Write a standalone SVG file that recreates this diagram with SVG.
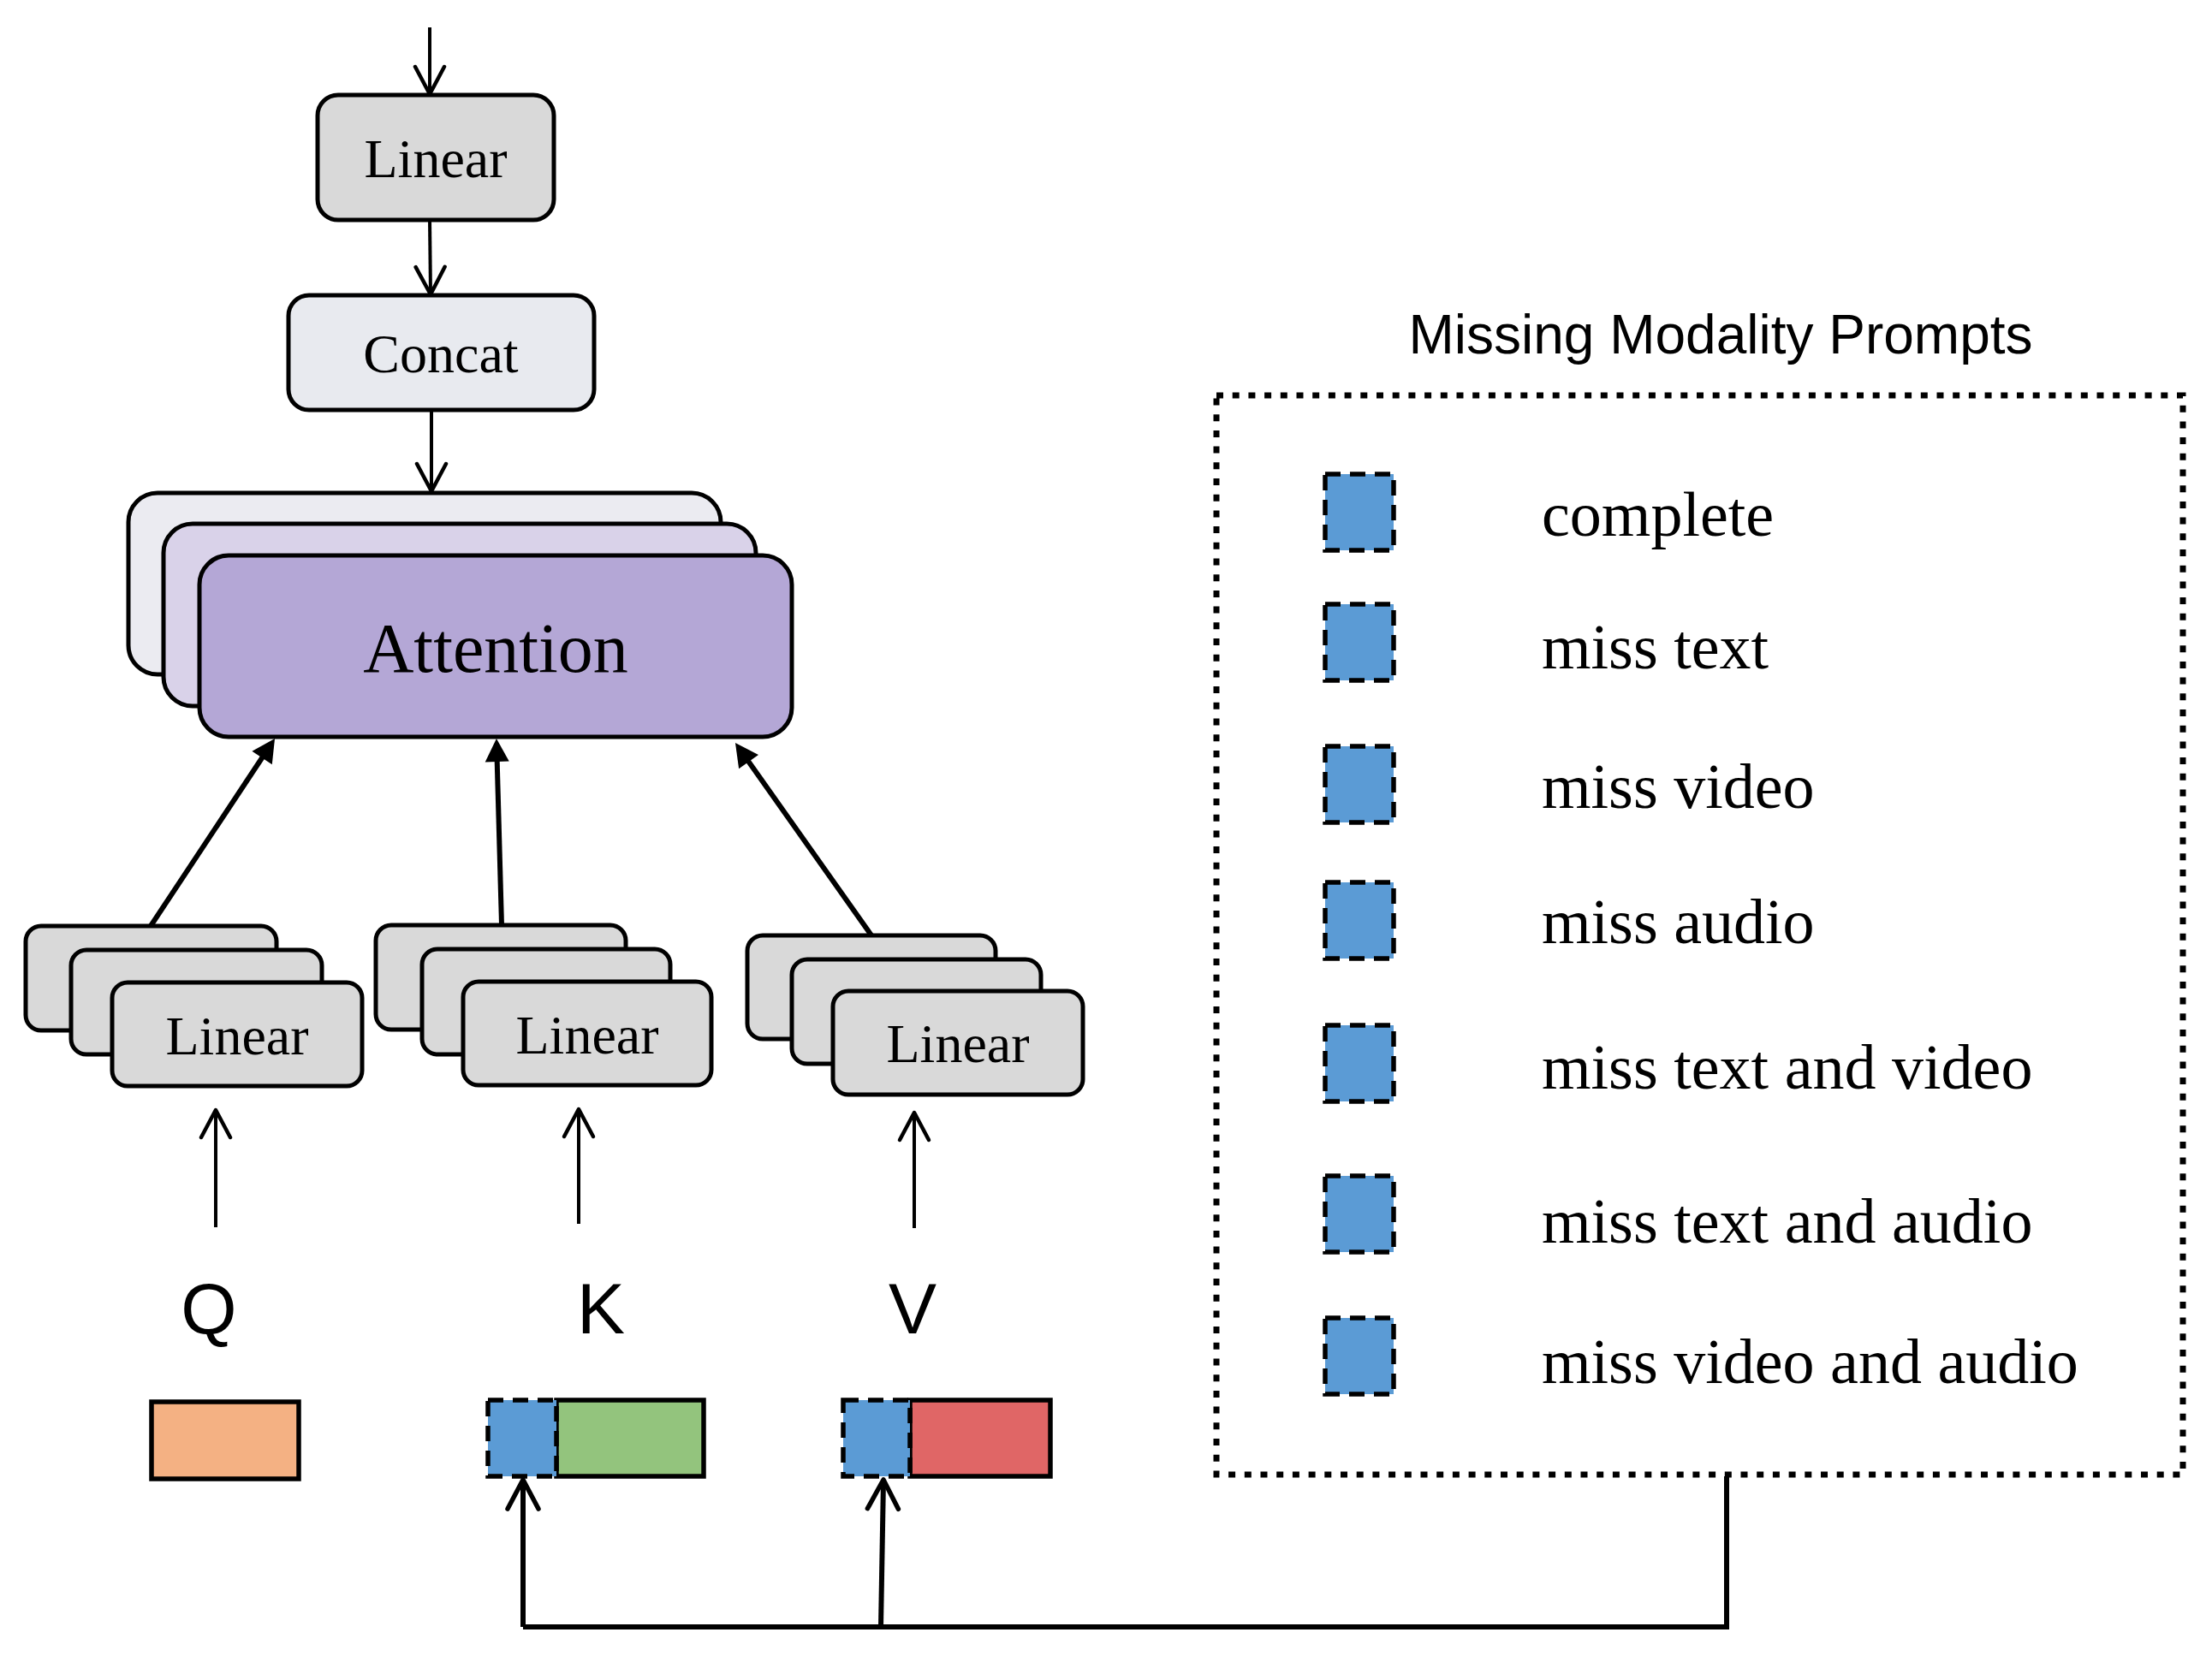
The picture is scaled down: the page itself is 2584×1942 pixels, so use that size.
<svg xmlns="http://www.w3.org/2000/svg" width="2584" height="1942" viewBox="0 0 2584 1942">
<defs>
<style>
.box{stroke:#000;stroke-width:5}
.lin{fill:#D9D9D9}
.serif{font-family:"Liberation Serif","Times New Roman",serif;fill:#000}
.sans{font-family:"Liberation Sans",Arial,sans-serif;fill:#000}
.thin{stroke:#000;stroke-width:4;fill:none;marker-end:url(#open)}
.thick{stroke:#000;stroke-width:6;fill:none;marker-end:url(#solid)}
.bus{stroke:#000;stroke-width:6;fill:none}
.prompt{fill:#5B9BD5;stroke:#000;stroke-width:5.5;stroke-dasharray:18 11}
.bar{stroke:#000;stroke-width:5.5}
</style>
<marker id="open" markerUnits="userSpaceOnUse" viewBox="-38 -22 42 44" refX="0" refY="0" markerWidth="42" markerHeight="44" orient="auto" overflow="visible">
<path d="M-32,-17 L0,0 L-32,17" fill="none" stroke="#000" stroke-width="4.5" stroke-linecap="round" stroke-linejoin="round"/>
</marker>
<marker id="openBig" markerUnits="userSpaceOnUse" viewBox="-40 -24 44 48" refX="0" refY="0" markerWidth="44" markerHeight="48" orient="auto" overflow="visible">
<path d="M-34,-18 L0,0 L-34,18" fill="none" stroke="#000" stroke-width="5.5" stroke-linecap="round" stroke-linejoin="round"/>
</marker>
<marker id="solid" markerUnits="userSpaceOnUse" viewBox="-16 -15 30 30" refX="0" refY="0" markerWidth="30" markerHeight="30" orient="auto" overflow="visible">
<polygon points="12,0 -15,-14 -15,14" fill="#000"/>
</marker>
</defs>
<rect width="2584" height="1942" fill="#fff"/>

<g id="linear-top">
<rect class="box lin" x="371" y="111" width="276" height="146" rx="24"/>
<text class="serif" x="509" y="207" font-size="64" text-anchor="middle">Linear</text>
</g>

<g id="concat">
<rect class="box" fill="#E8EAEF" x="337" y="345" width="357" height="134" rx="24"/>
<text class="serif" x="515" y="435" font-size="64" text-anchor="middle">Concat</text>
</g>

<g id="attention">
<rect class="box" fill="#EBEBF1" x="150" y="576" width="692" height="212" rx="34"/>
<rect class="box" fill="#D9D2E9" x="191" y="612" width="692" height="213" rx="34"/>
<rect class="box" fill="#B4A7D6" x="233" y="649" width="692" height="212" rx="34"/>
<text class="serif" x="579" y="785" font-size="82" text-anchor="middle">Attention</text>
</g>

<g id="linear-q">
<rect class="box lin" x="30" y="1082" width="293" height="122" rx="18"/>
<rect class="box lin" x="83" y="1110" width="293" height="122" rx="18"/>
<rect class="box lin" x="131" y="1148" width="292" height="121" rx="18"/>
<text class="serif" x="277" y="1232" font-size="64" text-anchor="middle">Linear</text>
</g>

<g id="linear-k">
<rect class="box lin" x="439" y="1081" width="292" height="122" rx="18"/>
<rect class="box lin" x="493" y="1109" width="290" height="123" rx="18"/>
<rect class="box lin" x="541" y="1147" width="290" height="121" rx="18"/>
<text class="serif" x="686" y="1231" font-size="64" text-anchor="middle">Linear</text>
</g>

<g id="linear-v">
<rect class="box lin" x="873" y="1093" width="290" height="121" rx="18"/>
<rect class="box lin" x="925" y="1121" width="291" height="122" rx="18"/>
<rect class="box lin" x="973" y="1158" width="292" height="121" rx="18"/>
<text class="serif" x="1119" y="1241" font-size="64" text-anchor="middle">Linear</text>
</g>

<g id="label-q"><text class="sans" x="244" y="1558" font-size="84" text-anchor="middle">Q</text></g>
<g id="label-k"><text class="sans" x="702" y="1558" font-size="84" text-anchor="middle">K</text></g>
<g id="label-v"><text class="sans" x="1066" y="1558" font-size="84" text-anchor="middle">V</text></g>

<g id="bar-q">
<rect class="bar" fill="#F4B183" x="177" y="1638" width="172" height="90"/>
</g>
<g id="bar-k">
<rect class="bar" fill="#93C47D" x="650" y="1636" width="172" height="89"/>
<rect class="prompt" x="570" y="1636" width="80" height="89" stroke-dasharray="16 12"/>
</g>
<g id="bar-v">
<rect class="bar" fill="#E06666" x="1063" y="1636" width="164" height="89"/>
<rect class="prompt" x="985" y="1636" width="78" height="89" stroke-dasharray="16 12"/>
</g>

<g id="prompts">
<text class="sans" x="2010" y="413" font-size="64" text-anchor="middle">Missing Modality Prompts</text>
<rect x="1421" y="462" width="1129" height="1261" fill="none" stroke="#000" stroke-width="7" stroke-dasharray="8 10.7"/>
<g id="prompt-complete"><rect class="prompt" x="1548" y="554" width="80" height="89"/><text class="serif" x="1801" y="626" font-size="74">complete</text></g>
<g id="prompt-miss-text"><rect class="prompt" x="1548" y="706" width="80" height="89"/><text class="serif" x="1801" y="781" font-size="74">miss text</text></g>
<g id="prompt-miss-video"><rect class="prompt" x="1548" y="872" width="80" height="89"/><text class="serif" x="1801" y="944" font-size="74">miss video</text></g>
<g id="prompt-miss-audio"><rect class="prompt" x="1548" y="1031" width="80" height="89"/><text class="serif" x="1801" y="1102" font-size="74">miss audio</text></g>
<g id="prompt-miss-text-video"><rect class="prompt" x="1548" y="1198" width="80" height="89"/><text class="serif" x="1801" y="1272" font-size="74">miss text and video</text></g>
<g id="prompt-miss-text-audio"><rect class="prompt" x="1548" y="1374" width="80" height="89"/><text class="serif" x="1801" y="1452" font-size="74">miss text and audio</text></g>
<g id="prompt-miss-video-audio"><rect class="prompt" x="1548" y="1540" width="80" height="89"/><text class="serif" x="1801" y="1616" font-size="74">miss video and audio</text></g>
</g>

<g id="connectors">
<line class="thin" x1="502" y1="32" x2="502" y2="110"/>
<line class="thin" x1="502" y1="257" x2="503" y2="344"/>
<line class="thin" x1="504" y1="479" x2="504" y2="574"/>
<line class="thick" x1="176" y1="1082" x2="314.4" y2="873"/>
<line class="thick" x1="586" y1="1081" x2="580.3" y2="875"/>
<line class="thick" x1="1018" y1="1093" x2="865.9" y2="877.8"/>
<line class="thin" x1="252" y1="1434" x2="252" y2="1297"/>
<line class="thin" x1="676" y1="1430" x2="676" y2="1296"/>
<line class="thin" x1="1068" y1="1435" x2="1068" y2="1300"/>
<path class="bus" d="M2017,1725 V1901 H611"/>
<line class="bus" x1="611" y1="1901" x2="611" y2="1729" marker-end="url(#openBig)"/>
<line class="bus" x1="1029" y1="1901" x2="1032" y2="1729" marker-end="url(#openBig)"/>
</g>
</svg>
